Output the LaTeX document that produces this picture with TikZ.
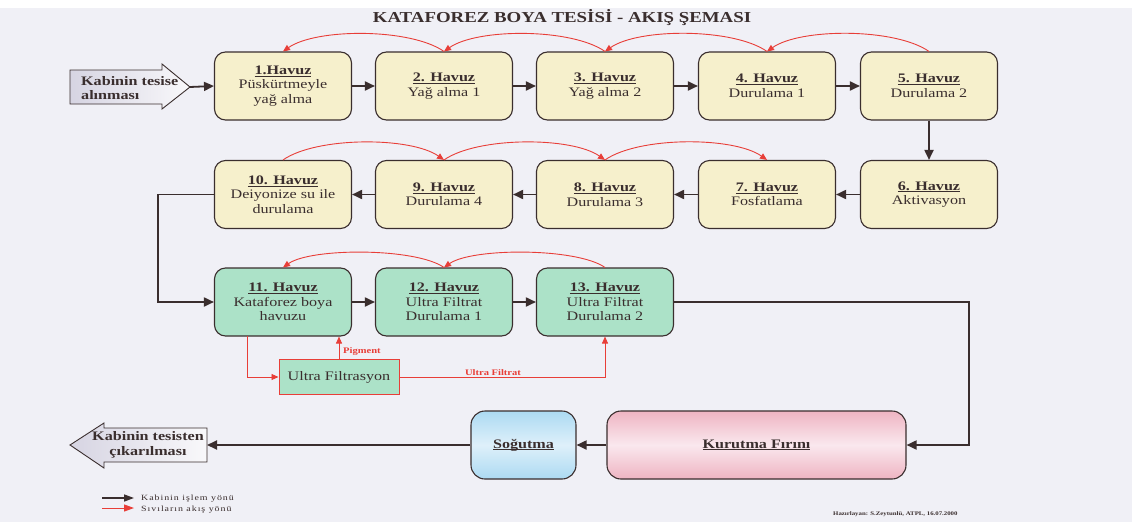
\documentclass[tikz,border=0pt]{standalone}
\usepackage{fontspec}
\setmainfont{Liberation Serif}[FakeStretch=1.24]
\usetikzlibrary{arrows.meta,calc}
\definecolor{bg}{RGB}{240,240,246}
\definecolor{ink}{RGB}{58,46,46}
\definecolor{cream}{RGB}{246,240,204}
\definecolor{mint}{RGB}{172,226,200}
\definecolor{redl}{RGB}{232,62,56}
\definecolor{arrg}{RGB}{214,212,226}
\definecolor{skyA}{RGB}{172,218,242}
\definecolor{skyB}{RGB}{222,240,250}
\definecolor{pinkA}{RGB}{238,180,194}
\definecolor{pinkB}{RGB}{250,232,238}
\newcommand{\hv}[1]{{\bfseries\setbox0=\hbox{#1}\rlap{\rule[-2.2pt]{\wd0}{0.9pt}}\box0}}
\tikzset{
  box/.style={draw=ink, line width=1.1pt, rounded corners=11pt, fill=cream,
    minimum width=137pt, minimum height=68pt, align=center, text=ink,
    font=\fontsize{13}{14.5}\selectfont, inner sep=0pt},
  gbox/.style={box, fill=mint},
  flow/.style={draw=ink, line width=1.8pt, -{Triangle[length=10pt,width=9pt]}},
  liq/.style={draw=redl, line width=0.9pt, -{Triangle[length=7pt,width=6pt]}},
  bigarrow/.style={draw=ink, line width=0.9pt, left color=arrg, right color=white!85!arrg},
  lbl/.style={text=redl, font=\fontsize{8.5}{9}\selectfont\bfseries, inner sep=0pt},
  legtxt/.style={anchor=west, text=ink, font=\fontsize{8}{8.5}\selectfont\addfontfeature{LetterSpace=12}, inner sep=0pt}
}
\begin{document}
\begin{tikzpicture}[x=1pt,y=1pt]
\useasboundingbox (0,0) rectangle (1132,-522);
\fill[bg] (0,0) rectangle (1132,-522);
\fill[white] (0,0) rectangle (1132,-8);

% title
\node[text=ink, font=\fontsize{15.2}{15.2}\selectfont\bfseries] (title) at (562,-18) {KATAFOREZ BOYA TESİSİ - AKIŞ ŞEMASI};

% row 1
\node[box] (b1) at (283,-86) {\hv{1.Havuz}\\Püskürtmeyle\\yağ alma};
\node[box] (b2) at (444,-86) {\hv{2. Havuz}\\Yağ alma 1};
\node[box] (b3) at (605,-86) {\hv{3. Havuz}\\Yağ alma 2};
\node[box] (b4) at (767,-86) {\hv{4. Havuz}\\Durulama 1};
\node[box] (b5) at (929,-86) {\hv{5. Havuz}\\Durulama 2};
% row 2
\node[box] (b10) at (283,-194.5) {\hv{10. Havuz}\\Deiyonize su ile\\durulama};
\node[box] (b9) at (444,-194.5) {\hv{9. Havuz}\\Durulama 4};
\node[box] (b8) at (605,-194.5) {\hv{8. Havuz}\\Durulama 3};
\node[box] (b7) at (767,-194.5) {\hv{7. Havuz}\\Fosfatlama};
\node[box] (b6) at (929,-194.5) {\hv{6. Havuz}\\Aktivasyon};
% row 3
\node[gbox] (b11) at (283,-302) {\hv{11. Havuz}\\Kataforez boya\\havuzu};
\node[gbox] (b12) at (444,-302) {\hv{12. Havuz}\\Ultra Filtrat\\Durulama 1};
\node[gbox] (b13) at (605,-302) {\hv{13. Havuz}\\Ultra Filtrat\\Durulama 2};
% ultra filtrasyon
\node[draw=redl, line width=1pt, fill=mint, minimum width=120pt, minimum height=35pt, text=ink,
  font=\fontsize{13}{13.5}\selectfont, inner sep=0pt] (uf) at (339,-377) {Ultra Filtrasyon};
% bottom row
\node[draw=ink, line width=1.1pt, rounded corners=14pt, top color=pinkA, bottom color=pinkA, middle color=pinkB,
  minimum width=299pt, minimum height=68pt, text=ink, font=\fontsize{13}{13.5}\selectfont, inner sep=0pt]
  (kur) at (756.5,-445) {\hv{Kurutma Fırını}};
\node[draw=ink, line width=1.1pt, rounded corners=14pt, top color=skyA, bottom color=skyA, middle color=skyB,
  minimum width=105pt, minimum height=68pt, text=ink, font=\fontsize{13}{13.5}\selectfont, inner sep=0pt]
  (sog) at (523.5,-445) {\hv{Soğutma}};

% entry arrow
\draw[bigarrow] (70,-70) -- (162,-70) -- (162,-64) -- (190,-87) -- (162,-109) -- (162,-104) -- (70,-104) -- cycle;
\coordinate (intip) at (190,-87);
\node[anchor=west, align=left, text=ink, font=\fontsize{13}{14}\selectfont\bfseries, inner sep=0pt] (intxt) at (81,-88) {Kabinin tesise\\alınması};
% exit arrow
\draw[bigarrow] (207,-428) -- (104,-428) -- (104,-423) -- (70,-445) -- (104,-468) -- (104,-462) -- (207,-462) -- cycle;
\coordinate (outtail) at (207,-445);
\node[align=center, text=ink, font=\fontsize{13}{15}\selectfont\bfseries, inner sep=0pt] (outtxt) at (148,-445) {Kabinin tesisten\\çıkarılması};

% black flow
\draw[flow] (intip) -- (b1.west);
\draw[flow] (b1) -- (b2);
\draw[flow] (b2) -- (b3);
\draw[flow] (b3) -- (b4);
\draw[flow] (b4) -- (b5);
\draw[flow] (b5) -- (b6);
\draw[flow] (b6) -- (b7);
\draw[flow] (b7) -- (b8);
\draw[flow] (b8) -- (b9);
\draw[flow] (b9) -- (b10);
\coordinate (lc) at (158,-194.5);
\draw[flow] (b10.west) -- (lc) |- (b11.west);
\draw[flow] (b11) -- (b12);
\draw[flow] (b12) -- (b13);
\coordinate (rc) at (969,-302);
\draw[flow] (b13.east) -- (rc) |- (kur.east);
\draw[flow] (kur) -- (sog);
\draw[flow] (sog.west) -- (outtail);

% red liquid flow
\draw[liq] (b2.north) to[out=145,in=35,looseness=0.65] (b1.north);
\draw[liq] (b3.north) to[out=145,in=35,looseness=0.65] (b2.north);
\draw[liq] (b4.north) to[out=145,in=35,looseness=0.65] (b3.north);
\draw[liq] (b5.north) to[out=145,in=35,looseness=0.65] (b4.north);
\draw[liq] (b10.north) to[out=35,in=145,looseness=0.65] (b9.north);
\draw[liq] (b9.north) to[out=35,in=145,looseness=0.65] (b8.north);
\draw[liq] (b8.north) to[out=35,in=145,looseness=0.65] (b7.north);
\draw[liq] (b12.north) to[out=145,in=35,looseness=0.55] (b11.north);
\draw[liq] (b13.north) to[out=145,in=35,looseness=0.55] (b12.north);
\coordinate (ufin) at (247,-336);
\draw[liq] (ufin) |- (uf.west);
\draw[liq] (uf.north) -- (uf.north |- b11.south);
\draw[liq] (uf.east) -| (b13.south);
\node[lbl, anchor=west] (pig) at (343,-351) {Pigment};
\node[lbl] (uflbl) at (493,-373) {Ultra Filtrat};

% legend
\coordinate (l1a) at (102,-498); \coordinate (l1b) at (134,-498);
\coordinate (l2a) at (102,-508); \coordinate (l2b) at (134,-508);
\draw[draw=ink, line width=1.5pt, -{Triangle[length=10pt,width=7pt]}] (l1a) -- (l1b);
\draw[draw=redl, line width=1pt, -{Triangle[length=10pt,width=7pt]}] (l2a) -- (l2b);
\node[legtxt] (lg1) at (141,-499) {Kabinin işlem yönü};
\node[legtxt] (lg2) at (141,-509.5) {Sıvıların akış yönü};
% footer
\node[anchor=west, text=ink, font=\fontsize{5.5}{6}\selectfont\bfseries, inner sep=0pt] (foot) at (833,-514) {Hazırlayan: S.Zeytunlü, ATPL, 16.07.2000};
\end{tikzpicture}
\end{document}
